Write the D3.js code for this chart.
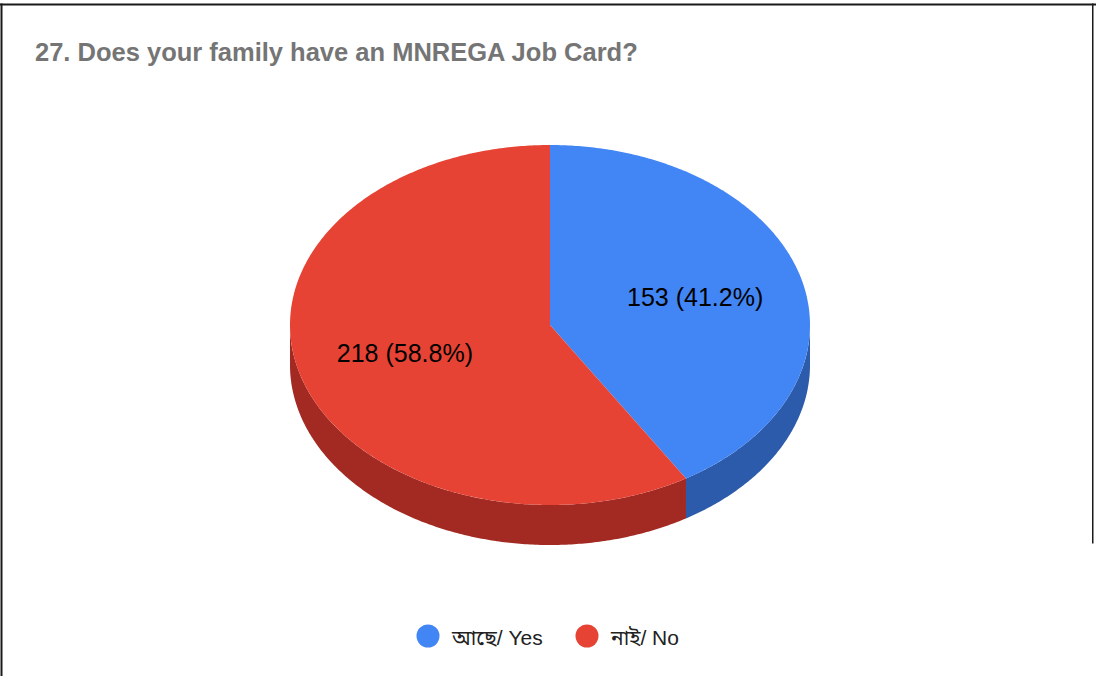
<!DOCTYPE html>
<html>
<head>
<meta charset="utf-8">
<script src="https://cdn.jsdelivr.net/npm/d3@7"></script>
<style>
  html, body { margin: 0; padding: 0; background: #fff; }
  svg { display: block; }
</style>
</head>
<body>
<svg id="chart" width="1096" height="676"></svg>
<script>
// Survey answers for question 27
const categories = ["আছে/ Yes", "নাই/ No"];
const counts = [153, 218];
const colors = ["#4285f4", "#e64335"];
const sideColors = ["#2d5bab", "#a32a23"];
const title = "27. Does your family have an MNREGA Job Card?";

const W = 1096, H = 676;
const svg = d3.select("#chart");
const font = "'Liberation Sans', Arial, 'Noto Sans Bengali', 'Lohit Bengali', sans-serif";

// frame
svg.append("rect").attr("x", 0).attr("y", 3.5).attr("width", W).attr("height", 2).attr("fill", "#1a1a1a");
svg.append("rect").attr("x", 0.5).attr("y", 3.5).attr("width", 2).attr("height", H).attr("fill", "#1a1a1a");
svg.append("rect").attr("x", 1092).attr("y", 3.5).attr("width", 1.5).attr("height", 540).attr("fill", "#1a1a1a");

svg.append("text")
  .attr("x", 35).attr("y", 61)
  .attr("font-family", font).attr("font-weight", "bold")
  .attr("font-size", 25.5).attr("fill", "#757575")
  .text(title);

// 3D pie geometry
const cx = 550, cy = 325, rx = 260, ry = 180, depth = 40;
const total = d3.sum(counts);
const pie = d3.pie().sort(null).value(d => d)(counts);

// angle measured clockwise from 12 o'clock
const pt = (a, f = 1, dy = 0) => [cx + f * rx * Math.sin(a), cy - f * ry * Math.cos(a) + dy];

function arcPoints(a0, a1, dy) {
  const n = Math.max(2, Math.ceil(Math.abs(a1 - a0) / 0.01));
  return d3.range(n + 1).map(i => pt(a0 + (a1 - a0) * i / n, 1, dy));
}

const line = d3.line();
const g = svg.append("g");

// side walls (front half only: angles between PI/2 and 3PI/2)
pie.forEach((s, i) => {
  const a0 = Math.max(s.startAngle, Math.PI / 2);
  const a1 = Math.min(s.endAngle, 3 * Math.PI / 2);
  if (a1 <= a0) return;
  const top = arcPoints(a0, a1, 0);
  const bottom = arcPoints(a1, a0, depth);
  g.append("path")
    .attr("d", line(top.concat(bottom)) + "Z")
    .attr("fill", sideColors[i]);
});

// top faces
pie.forEach((s, i) => {
  const pts = [[cx, cy]].concat(arcPoints(s.startAngle, s.endAngle, 0));
  g.append("path")
    .attr("d", line(pts) + "Z")
    .attr("fill", colors[i]);
});

// slice labels
pie.forEach((s, i) => {
  const mid = (s.startAngle + s.endAngle) / 2;
  const [lx, ly] = pt(mid, 0.58);
  const pct = (counts[i] / total * 100).toFixed(1);
  g.append("text")
    .attr("x", lx).attr("y", ly)
    .attr("text-anchor", "middle").attr("dominant-baseline", "central")
    .attr("font-family", font).attr("font-size", 25).attr("fill", "#000")
    .text(`${counts[i]} (${pct}%)`);
});

// legend
const legendX = [428, 587];
const legend = svg.append("g");
categories.forEach((c, i) => {
  legend.append("circle").attr("cx", legendX[i]).attr("cy", 636).attr("r", 11.5).attr("fill", colors[i]);
  legend.append("text")
    .attr("x", legendX[i] + 24).attr("y", 637)
    .attr("dominant-baseline", "central")
    .attr("font-family", font).attr("font-size", 21).attr("fill", "#222")
    .text(c);
});
</script>
</body>
</html>
